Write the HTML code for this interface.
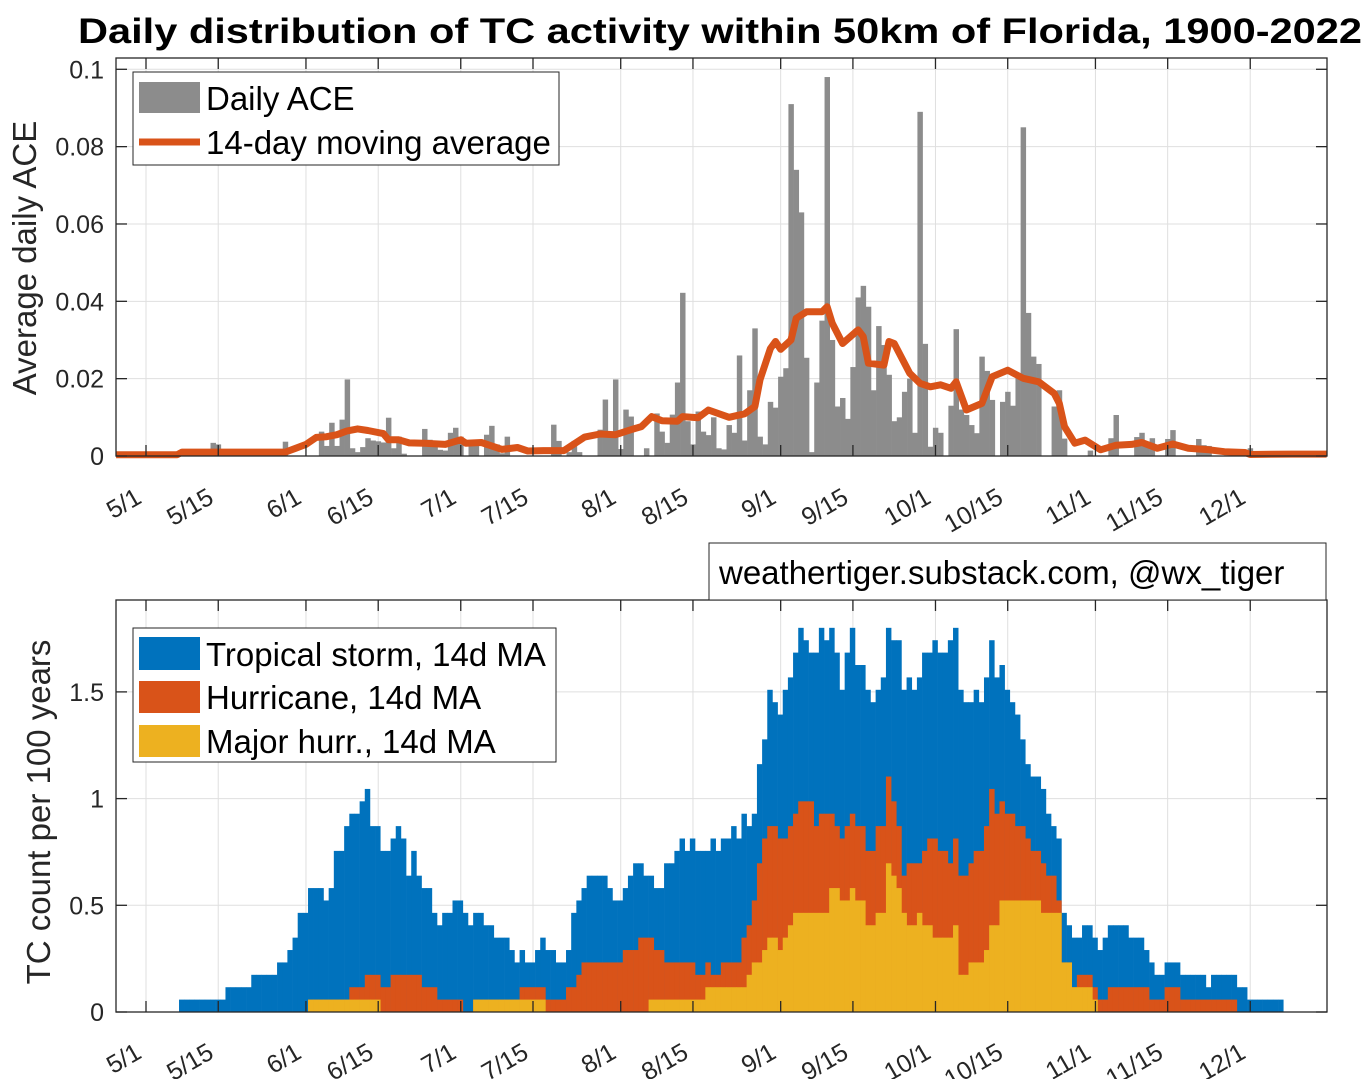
<!DOCTYPE html>
<html><head><meta charset="utf-8"><style>
html,body{margin:0;padding:0;background:#fff;}
svg{display:block;font-family:"Liberation Sans",Arial,sans-serif;}
</style></head><body>
<svg id="chart" width="1371" height="1079" viewBox="0 0 1371 1079" xmlns="http://www.w3.org/2000/svg">
<rect x="0" y="0" width="1371" height="1079" fill="#fff"/>
<text x="720" y="43" text-anchor="middle" font-size="35" font-weight="bold" fill="#000" textLength="1284" lengthAdjust="spacingAndGlyphs">Daily distribution of TC activity within 50km of Florida, 1900-2022</text>
<g id="top"></g>
<g id="bot"></g>
<text transform="translate(36,258) rotate(-90)" text-anchor="middle" font-size="33" fill="#262626">Average daily ACE</text>
<text transform="translate(50,812) rotate(-90)" text-anchor="middle" font-size="33" fill="#262626">TC count per 100 years</text>
<g>
<rect x="133" y="72" width="426" height="93" fill="#fff" stroke="#262626" stroke-width="1"/>
<rect x="139" y="82" width="61" height="31" fill="#8c8c8c"/>
<text x="206" y="110" font-size="33" fill="#000">Daily ACE</text>
<line x1="139" y1="142" x2="200" y2="142" stroke="#D95319" stroke-width="7"/>
<text x="206" y="154" font-size="33" fill="#000">14-day moving average</text>
</g>
<g>
<rect x="709" y="543" width="617" height="57" fill="#fff" stroke="#262626" stroke-width="1"/>
<text x="719" y="584" font-size="33" fill="#000">weathertiger.substack.com, @wx_tiger</text>
</g>
<g>
<rect x="133" y="628" width="423" height="134" fill="#fff" stroke="#262626" stroke-width="1"/>
<rect x="139" y="637" width="61" height="33" fill="#0072BD"/>
<text x="206" y="666" font-size="33" fill="#000">Tropical storm, 14d MA</text>
<rect x="139" y="681" width="61" height="32" fill="#D95319"/>
<text x="206" y="709" font-size="33" fill="#000">Hurricane, 14d MA</text>
<rect x="139" y="725" width="61" height="32" fill="#EDB120"/>
<text x="206" y="753" font-size="33" fill="#000">Major hurr., 14d MA</text>
</g>
</svg>
<script>
// ---- data ----
const tickDays = [0,14,31,45,61,75,92,106,123,137,153,167,184,198,214];
const tickLabels = ["5/1","5/15","6/1","6/15","7/1","7/15","8/1","8/15","9/1","9/15","10/1","10/15","11/1","11/15","12/1"];
const aceTicks = [0,0.02,0.04,0.06,0.08,0.1];
const aceTickLabels = ["0","0.02","0.04","0.06","0.08","0.1"];
const countTicks = [0,0.5,1,1.5];
const countTickLabels = ["0","0.5","1","1.5"];
// daily ACE (day offset from May 1 -> value), nonzero days only
const aceDays = [13,14,22,27,34,35,36,37,38,39,40,41,42,43,44,45,46,47,48,49,50,54,55,56,57,58,59,60,61,63,64,66,67,68,69,70,79,80,82,83,84,88,89,90,91,92,93,94,97,99,100,101,102,103,104,105,106,107,108,109,110,111,112,113,114,115,116,117,118,119,120,121,122,123,124,125,126,127,128,129,130,131,132,133,134,135,136,137,138,139,140,141,142,143,144,145,146,147,148,149,150,151,152,153,154,156,157,158,159,160,161,162,163,164,166,167,168,169,170,171,172,173,176,177,178,183,187,188,192,193,194,195,198,199,204,205,206,214];
const aceVals = [.0034,.003,.0016,.0037,.0063,.0026,.0086,.0026,.0094,.0198,.002,.001,.0023,.0046,.004,.0038,.0035,.0099,.002,.005,.0006,.007,.0042,.0038,.0016,.0014,.006,.0073,.005,.0033,.0033,.0055,.0078,.003,.0007,.005,.0081,.0039,.001,.0039,.001,.0068,.0146,.0063,.0198,.0018,.012,.0102,.002,.011,.0063,.0034,.0107,.019,.0422,.009,.003,.0115,.0063,.0054,.010,.002,.0017,.008,.006,.026,.004,.017,.033,.005,.003,.014,.0125,.0205,.0227,.091,.074,.063,.0254,.001,.019,.035,.098,.030,.0128,.015,.0096,.023,.041,.044,.0386,.017,.0336,.0287,.021,.009,.010,.0166,.02,.006,.089,.029,.0024,.0073,.006,.013,.0328,.012,.0106,.008,.0059,.0257,.022,.0145,.014,.0166,.013,.021,.085,.037,.0257,.0238,.0128,.017,.0045,.0014,.0046,.0106,.0049,.006,.0024,.0046,.0044,.0067,.0044,.0028,.0026,.002];
// 14-day moving average readings (day, value)
const maDays = [-6,6,7,27,29,31,33,35,37,39,41,43,46,47,49,51,54,58,61,62,65,69,72,74,77,81,85,88,91,94,96,98,100,103,104,107,109,113,116,118,119,121,122,123,125,126,128,131,132,133,135,138,139,140,143,144,145,148,150,152,154,156,157,159,162,164,167,170,173,176,177,178,180,182,185,188,191,193,196,199,202,206,209,213,214,222,229];
const maVals = [.0003,.0003,.001,.001,.002,.003,.0048,.005,.0055,.0065,.007,.0066,.0058,.0042,.0042,.0034,.0033,.003,.0042,.0033,.0035,.0017,.0022,.0013,.0014,.0014,.0049,.0057,.0055,.0068,.0076,.0102,.0091,.009,.0102,.0099,.0119,.010,.0109,.0128,.0197,.0278,.0296,.0276,.030,.0356,.0373,.0373,.0386,.0343,.0291,.0326,.0309,.024,.0235,.0296,.0291,.0214,.0188,.0179,.0184,.0175,.0192,.0119,.0136,.0205,.0222,.0201,.0192,.0162,.0136,.0076,.0033,.0041,.0016,.0028,.003,.0035,.002,.0031,.002,.0016,.0011,.0009,.0004,.0005,.0005];
// storm-day counts per day (14d MA), converted with COUNT_SCALE to "per 100 years"
const COUNT_SCALE = 100/(123*14);
const tsStart = 7;
const tsCounts = [1,1,1,1,1,1,1,1,1, 2,2,2,2,2, 3,3,3,3,3, 4,4,5,6,
 8,8,10,10,10,9,10, 13,13,15,16,16,17,18, 15,15,13,13,14,15,14, 11,13,11,10,10,8,7,
 8,8,9,9,8,7,8, 8,7,7,6,6,6,5, 4,5,4,4,5,6,5, 5,4,4,5,8,9,10, 11,11,11,11,10,9,9,
 10,11,12,12,11,11,10, 10,12,12,13,14,13,14, 13,13,13,14,13,14,14, 15,14,16,15,16,20,22,
 26,25,24,26,27,29,31, 30,29,29,31,30,31,29, 26,29,31,28,28,26,25, 26,27,31,30,30,26,27,
 26,27,29,29,30,29,29, 30,31,26,25,25,26,25, 27,30,27,28,26,25,24, 22,20,19,19,18,16,15,
 14,8,7,6,6,7,7, 6,5,6,7,7,7,7, 6,6,6,5,4,3,3, 4,4,4,3,3,3,3, 3,2,3,3,3,3,3, 2,2,1,1,1,1,1, 1,1];
const hurStart = 32;
const hurCounts = [1,1,1,1,1,1,1, 1,2,2,2,3,3,3, 2,2,3,3,3,3,3, 3,2,2,2,1,1,1, 1,1,0,0,1,1,1,
 1,1,1,1,1,1,2, 2,2,2,2,1,1,1, 1,2,2,3,4,4,4, 4,4,4,4,4,5,5, 5,6,6,6,5,5,4, 4,4,4,4,4,3,3,
 4,3,3,4,4,4,4, 6,7,9,12,14,15,15, 14,14,15,16,17,17,17, 15,16,16,16,15,14,15, 16,15,15,13,13,15,15,
 19,17,15,11,12,12,12, 13,14,14,13,13,12,14, 11,11,12,13,13,15,18, 16,17,16,16,15,15,14,
 13,13,12,11,11,9,4, 4,2,3,3,3,2,1, 1,2,2,2,2,2,2, 2,2,1,1,1,2,2, 2,1,1,1,1,1,1, 1,1,1,1,1];
const majStart = 32;
const majCounts = [1,1,1,1,1,1,1, 1,1,1,1,1,1,1, 0,0,0,0,0,0,0, 0,0,0,0,0,0,0, 0,0,0,0,
 1,1,1,1,1,1,1, 1,1,1,1,1,1,1, 0,0,0,0,0,0,0, 0,0,0,0,0,0,0, 0,0,0,0,0,0,
 1,1,1,1,1,1,1, 1,1,1,1,2,2,2, 2,2,2,2,2,3,4, 4,5,6,6,5,6,7, 8,8,8,8,8,8,8,
 10,10,9,9,10,9,9, 7,7,8,8,12,11,10, 8,7,7,8,7,7,6, 6,6,6,7,3,3,4, 4,4,5,7,7,9,9,
 9,9,9,9,9,9,8, 8,8,8,4,4,2,2, 2,2,1];

// ---- axes ----
const NS = "http://www.w3.org/2000/svg";
const AX_L = 116, AX_R = 1327;
const TOP_T = 58, TOP_B = 456;
const BOT_T = 600, BOT_B = 1012;
function xScale(d){ return 146 + 5.16*d; }
function yTop(v){ return 456 - v*3867; }
function yBot(v){ return 1012 - v*213.4; }
function mk(tag, attrs, parent){
  const el = document.createElementNS(NS, tag);
  for (const k in attrs) el.setAttribute(k, attrs[k]);
  parent.appendChild(el);
  return el;
}
const topG = document.getElementById('top');
const botG = document.getElementById('bot');

function drawGrid(g, yFn, ticks, yT, yB, prefix){
  tickDays.forEach(function(d){
    const x = xScale(d);
    const l = mk('line', {x1:x, y1:yT, x2:x, y2:yB, stroke:'#dfdfdf', 'stroke-width':1}, g);
    
    
  });
  ticks.forEach(function(v){
    const y = yFn(v);
    const l = mk('line', {x1:AX_L, y1:y, x2:AX_R, y2:y, stroke:'#dfdfdf', 'stroke-width':1}, g);
    
    
  });
}
function drawFrame(g, yFn, ticks, labels, yT, yB, labY, prefix){
  const box = mk('rect', {x:AX_L, y:yT, width:AX_R-AX_L, height:yB-yT, fill:'none', stroke:'#262626', 'stroke-width':1.3}, g);
  
  
  tickDays.forEach(function(d, i){
    const x = xScale(d);
    const t1 = mk('line', {x1:x, y1:yB, x2:x, y2:yB-11, stroke:'#262626', 'stroke-width':1.3}, g);
    
    
    const t2 = mk('line', {x1:x, y1:yT, x2:x, y2:yT+11, stroke:'#262626', 'stroke-width':1.3}, g);
    
    
    const tx = mk('text', {x:x-3, y:labY, 'text-anchor':'end', 'font-size':25, fill:'#262626', transform:'rotate(-30,'+(x-3)+','+labY+')'}, g);
    tx.textContent = tickLabels[i];
    
    
  });
  ticks.forEach(function(v, i){
    const y = yFn(v);
    const t1 = mk('line', {x1:AX_L, y1:y, x2:AX_L+11, y2:y, stroke:'#262626', 'stroke-width':1.3}, g);
    
    
    const t2 = mk('line', {x1:AX_R, y1:y, x2:AX_R-11, y2:y, stroke:'#262626', 'stroke-width':1.3}, g);
    
    
    const tx = mk('text', {x:104, y:y+9, 'text-anchor':'end', 'font-size':25, fill:'#262626'}, g);
    tx.textContent = labels[i];
    
    
  });
}

// ---- top panel ----
drawGrid(topG, yTop, aceTicks, TOP_T, TOP_B, 'top');
aceDays.forEach(function(d, i){
  const x0 = xScale(d-0.5), x1 = xScale(d+0.5);
  const y = yTop(aceVals[i]);
  const r = mk('rect', {x:x0, y:y, width:x1-x0+0.3, height:TOP_B-y, fill:'#8c8c8c'}, topG);
  
  
});
let pts = maDays.map(function(d, i){ return xScale(Math.max(-5.8, Math.min(228.8, d))).toFixed(1) + ',' + yTop(maVals[i]).toFixed(1); }).join(' ');
const ma = mk('polyline', {points:pts, fill:'none', stroke:'#D95319', 'stroke-width':7, 'stroke-linejoin':'round'}, topG);


drawFrame(topG, yTop, aceTicks, aceTickLabels, TOP_T, TOP_B, 502, 'top');

// ---- bottom panel ----
drawGrid(botG, yBot, countTicks, BOT_T, BOT_B, 'bottom');
function drawSeries(start, counts, color, name){
  counts.forEach(function(c, i){
    if (c <= 0) return;
    const d = start + i;
    const x0 = xScale(d-0.6), x1 = xScale(d+0.4);
    const y = yBot(c*COUNT_SCALE);
    const r = mk('rect', {x:x0, y:y, width:x1-x0+0.3, height:BOT_B-y, fill:color}, botG);
    
    
  });
}
drawSeries(tsStart, tsCounts, '#0072BD', 'tropical-storm-bar');
drawSeries(hurStart, hurCounts, '#D95319', 'hurricane-bar');
drawSeries(majStart, majCounts, '#EDB120', 'major-hurricane-bar');
drawFrame(botG, yBot, countTicks, countTickLabels, BOT_T, BOT_B, 1057, 'bottom');
</script>
</body></html>
